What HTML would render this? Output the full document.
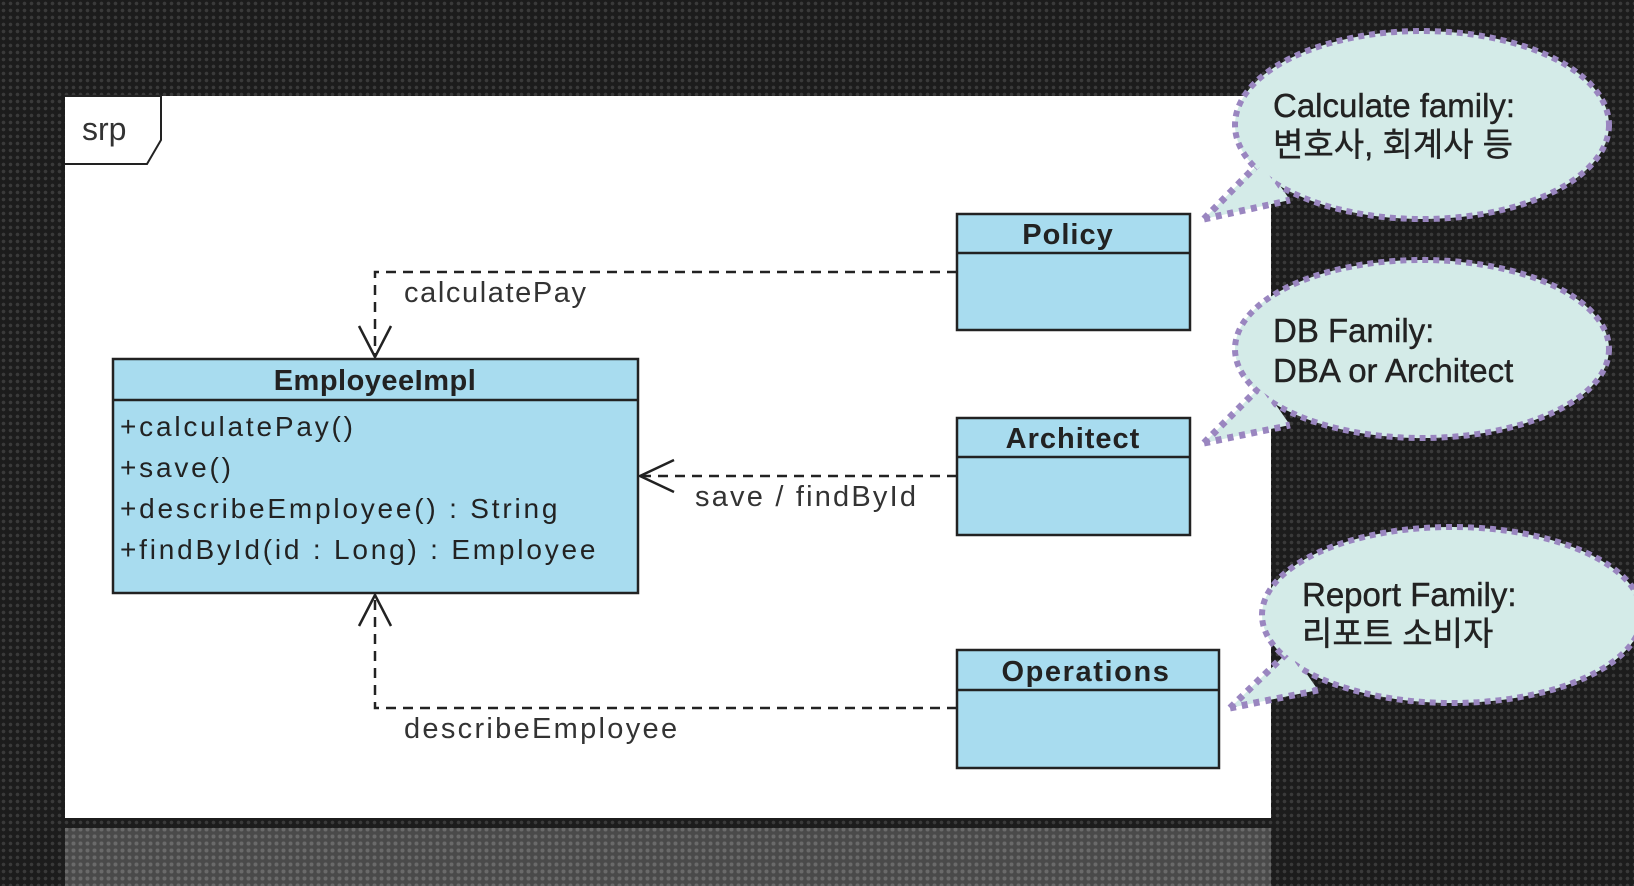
<!DOCTYPE html>
<html><head><meta charset="utf-8"><style>
html,body{margin:0;padding:0;}
body{width:1634px;height:886px;overflow:hidden;background:#1c1c1c;
background-image:radial-gradient(circle,#3a3a3a 1.6px,transparent 2px);background-size:7px 7px;position:relative;font-family:"Liberation Sans","Noto Sans CJK KR",sans-serif;}
</style></head><body>
<svg width="1634" height="886" style="position:absolute;left:0;top:0">
<defs>
<pattern id="dots" width="7" height="7" patternUnits="userSpaceOnUse"><rect width="7" height="7" fill="#4a4a4a"/><circle cx="3.5" cy="3.5" r="2" fill="#6a6a6a"/></pattern>
</defs>
<rect x="65" y="828" width="1206" height="58" fill="url(#dots)"/>
<rect x="65" y="96" width="1206" height="722" fill="#fff"/>
<path d="M65 96 H161 V140 L147 164 H65" fill="none" stroke="#222" stroke-width="2"/>
<text x="82" y="140" font-size="32" fill="#333">srp</text>
<g stroke="#222" stroke-width="2.5" fill="none" stroke-dasharray="10,7">
<path d="M957 272 H375 V357"/>
<path d="M957 476 H640"/>
<path d="M957 708 H375 V595"/>
</g>
<g stroke="#222" stroke-width="2.5" fill="none">
<path d="M359 326 L375 357 L391 326"/>
<path d="M674 460 L640 476 L674 492"/>
<path d="M359 626 L375 595 L391 626"/>
</g>
<g font-size="29" fill="#333">
<text x="404" y="302" letter-spacing="1.6">calculatePay</text>
<text x="695" y="506" letter-spacing="2.2">save / findById</text>
<text x="404" y="738" letter-spacing="2.3">describeEmployee</text>
</g>
<g stroke="#222" stroke-width="2.5" fill="#a8dcef">
<rect x="113" y="359" width="525" height="234"/><line x1="113" y1="400" x2="638" y2="400"/>
<rect x="957" y="214" width="233" height="116"/><line x1="957" y1="253" x2="1190" y2="253"/>
<rect x="957" y="418" width="233" height="117"/><line x1="957" y1="457" x2="1190" y2="457"/>
<rect x="957" y="650" width="262" height="118"/><line x1="957" y1="690" x2="1219" y2="690"/>
</g>
<g font-size="29" font-weight="bold" fill="#222" text-anchor="middle">
<text x="375" y="390" letter-spacing="0.5">EmployeeImpl</text>
<text x="1068" y="244" letter-spacing="1">Policy</text>
<text x="1073" y="448" letter-spacing="1">Architect</text>
<text x="1086" y="681" letter-spacing="1.6">Operations</text>
</g>
<g font-size="28" fill="#222" letter-spacing="2.8">
<text x="120" y="436">+calculatePay()</text>
<text x="120" y="477">+save()</text>
<text x="120" y="518">+describeEmployee() : String</text>
<text x="120" y="559">+findById(id : Long) : Employee</text>
</g>
<g fill="#d4ebe8">
<path d="M1204 219 L1262 160 L1290 200 Z"/>
<path d="M1204 443 L1262 385 L1290 425 Z"/>
<path d="M1230 708 L1290 650 L1318 690 Z"/>
</g>
<g stroke="#9a86c0" stroke-width="7" stroke-dasharray="6,6" fill="none">
<path d="M1204 219 L1262 160 M1204 219 L1290 200"/>
<path d="M1204 443 L1262 385 M1204 443 L1290 425"/>
<path d="M1230 708 L1290 650 M1230 708 L1318 690"/>
</g>
<g fill="#d4ebe8" stroke="#9a86c0" stroke-width="6" stroke-dasharray="6,5">
<ellipse cx="1422" cy="125" rx="187" ry="94"/>
<ellipse cx="1422" cy="349" rx="187" ry="89"/>
<ellipse cx="1452" cy="615" rx="190" ry="88"/>
</g>
<g fill="#d4ebe8">
<path d="M1215 213 L1262 165 L1285 198 Z"/>
<path d="M1215 437 L1262 390 L1285 423 Z"/>
<path d="M1241 702 L1290 655 L1313 688 Z"/>
</g>
<g font-size="33" fill="#222" stroke="#222" stroke-width="0.4">
<text x="1273" y="117">Calculate family:</text>
<text x="1273" y="156">변호사, 회계사 등</text>
<text x="1273" y="342">DB Family:</text>
<text x="1273" y="382">DBA or Architect</text>
<text x="1302" y="606">Report Family:</text>
<text x="1302" y="645">리포트 소비자</text>
</g>
</svg>
</body></html>
